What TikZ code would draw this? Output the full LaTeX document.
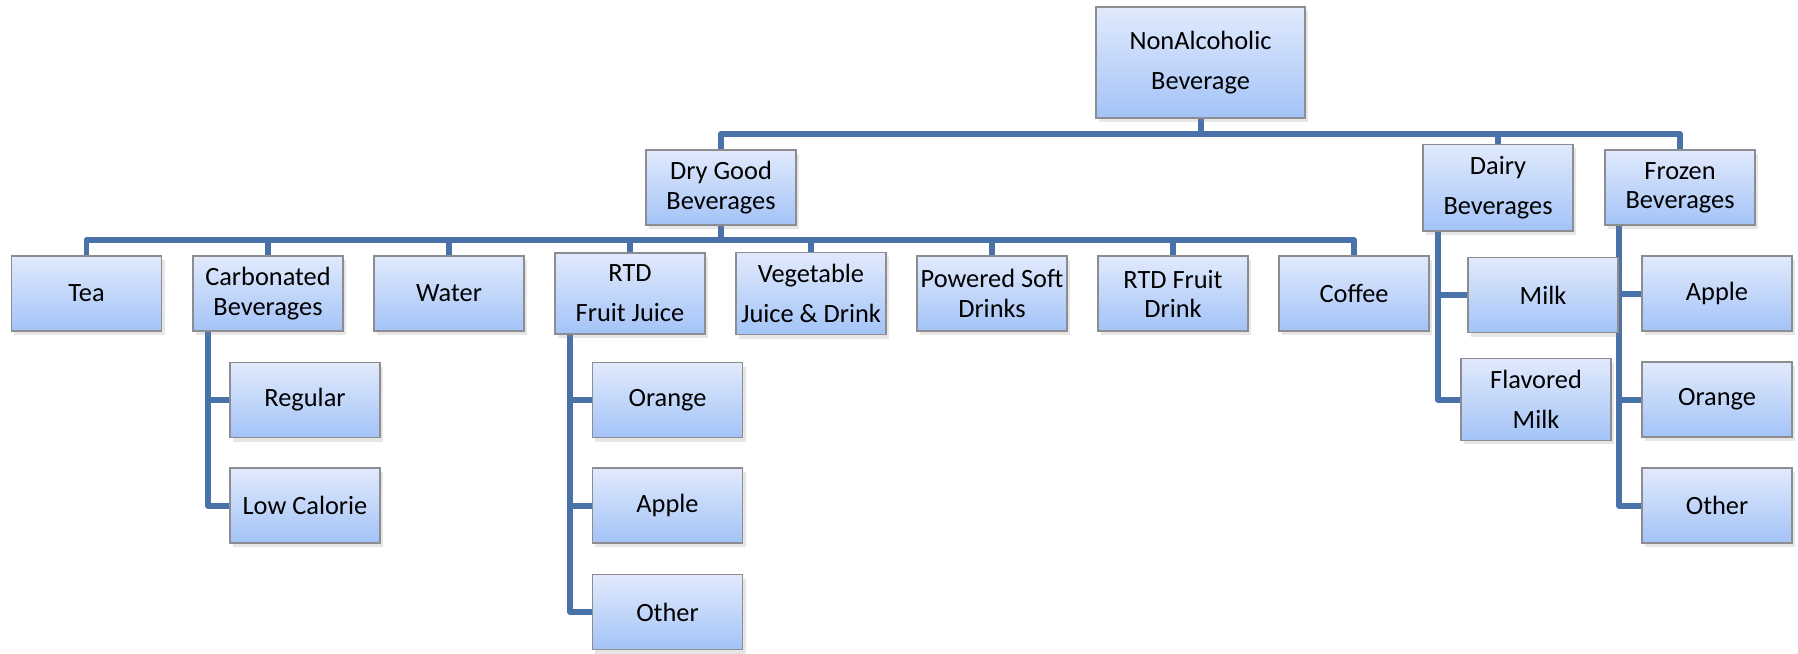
\documentclass[tikz,border=0pt]{standalone}
\usepackage{fontspec}
\setmainfont{Carlito}
\usetikzlibrary{positioning,shadows,backgrounds}
\definecolor{boxtop}{RGB}{225,234,252}
\definecolor{boxbot}{RGB}{163,195,247}
\definecolor{boxline}{RGB}{140,140,145}
\definecolor{linkblue}{RGB}{72,114,168}
\tikzset{
  catbox/.style={draw=boxline, line width=0.5pt, top color=boxtop, bottom color=boxbot,
    minimum width=1.5cm, minimum height=0.75cm, inner xsep=0pt, align=center,
    font=\fontsize{7.5}{8.3}\selectfont,
    drop shadow={shadow xshift=0.03cm, shadow yshift=-0.04cm, opacity=0.2}},
  link/.style={draw=linkblue, line width=1.7pt, line join=round}
}
\begin{document}
\begin{tikzpicture}[x=0.01cm, y=-0.01cm]
    \useasboundingbox (0,0) rectangle (1798,653);

    % root and first level
    \node[catbox, minimum width=2.09cm, minimum height=1.11cm] (nonalc) at (1200.5,62.5) {NonAlcoholic\\[3.1pt]Beverage};
    \node[catbox] (drygood) at (721,187.5) {Dry Good\\Beverages};
    \node[catbox] (dairy) at (1498,187.5) {Dairy\\[3.1pt]Beverages};
    \node[catbox] (frozen) at (1680,187.5) {Frozen\\Beverages};

    % dry goods
    \node[catbox] (tea) at (86.5,293.5) {Tea};
    \node[catbox] (carb) at (268,293.5) {Carbonated\\Beverages};
    \node[catbox] (water) at (449,293.5) {Water};
    \node[catbox] (rtdjuice) at (630,293.5) {RTD\\[3.1pt]Fruit Juice};
    \node[catbox] (veg) at (811,293.5) {Vegetable\\[3.1pt]Juice \& Drink};
    \node[catbox] (powered) at (992,293.5) {Powered Soft\\Drinks};
    \node[catbox] (rtddrink) at (1173,293.5) {RTD Fruit\\Drink};
    \node[catbox] (coffee) at (1354,293.5) {Coffee};

    \node[catbox] (regular) at (305,400) {Regular};
    \node[catbox] (lowcal) at (305,505.5) {Low Calorie};

    \node[catbox] (jcorange) at (667.5,400) {Orange};
    \node[catbox] (jcapple) at (667.5,505.5) {Apple};
    \node[catbox] (jcother) at (667.5,612) {Other};

    % dairy and frozen
    \node[catbox] (milk) at (1543,295) {Milk};
    \node[catbox] (flavmilk) at (1536,399.5) {Flavored\\[3.1pt]Milk};

    \node[catbox] (fzapple) at (1717,293.5) {Apple};
    \node[catbox] (fzorange) at (1717,399.5) {Orange};
    \node[catbox] (fzother) at (1717,505.5) {Other};

    \begin{scope}[on background layer]
    \coordinate (bus1) at (1200.5,134);
    \coordinate (bus2) at (721,240);
    \draw[link] (nonalc) -- (bus1);
    \draw[link] (drygood.north) |- (bus1) -| (frozen.north);
    \draw[link] (dairy.north) -- (dairy.north |- bus1);

    \draw[link] (drygood) -- (bus2);
    \draw[link] (tea.north) |- (bus2) -| (coffee.north);
    \foreach \n in {carb,water,rtdjuice,veg,powered,rtddrink}
        \draw[link] (\n.north) -- (\n.north |- bus2);

    \coordinate (carbtrunk) at ([xshift=0.16cm]carb.south west);
    \draw[link] (carbtrunk) |- (lowcal.west);
    \draw[link] (carbtrunk |- regular.west) -- (regular.west);

    \coordinate (juicetrunk) at ([xshift=0.16cm]rtdjuice.south west);
    \draw[link] (juicetrunk) |- (jcother.west);
    \foreach \n in {jcorange,jcapple}
        \draw[link] (juicetrunk |- \n.west) -- (\n.west);

    \coordinate (dairytrunk) at ([xshift=0.16cm]dairy.south west);
    \draw[link] (dairytrunk) |- (flavmilk.west);
    \draw[link] (dairytrunk |- milk.west) -- (milk.west);

    \coordinate (frozentrunk) at ([xshift=0.15cm]frozen.south west);
    \draw[link] (frozentrunk) |- (fzother.west);
    \foreach \n in {fzapple,fzorange}
        \draw[link] (frozentrunk |- \n.west) -- (\n.west);
    \end{scope}
\end{tikzpicture}
\end{document}
